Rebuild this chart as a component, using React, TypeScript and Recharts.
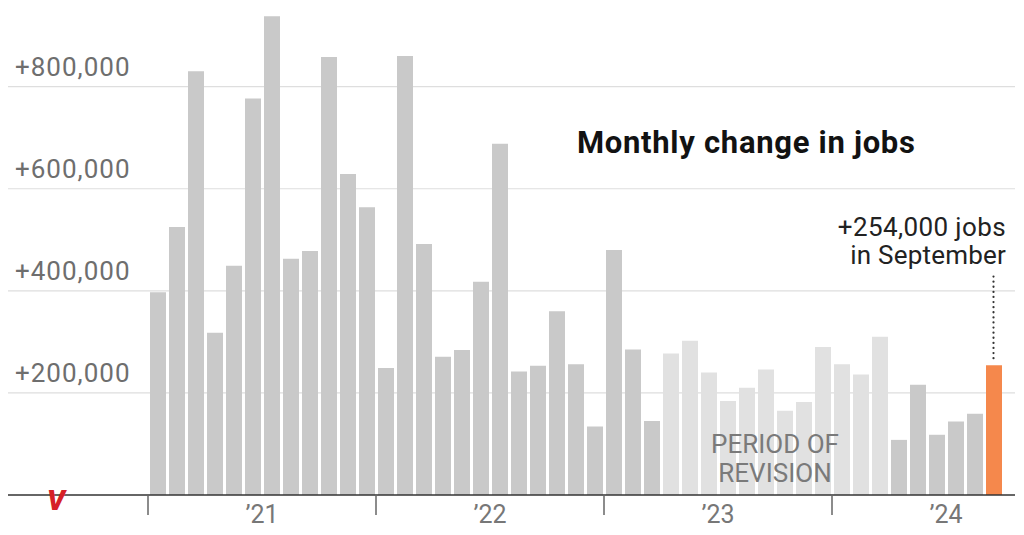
import { BarChart, Bar, Cell, XAxis, YAxis, CartesianGrid, ReferenceLine } from "recharts";

const months = [
  "Jan 2021", "Feb 2021", "Mar 2021", "Apr 2021", "May 2021", "Jun 2021",
  "Jul 2021", "Aug 2021", "Sep 2021", "Oct 2021", "Nov 2021", "Dec 2021",
  "Jan 2022", "Feb 2022", "Mar 2022", "Apr 2022", "May 2022", "Jun 2022",
  "Jul 2022", "Aug 2022", "Sep 2022", "Oct 2022", "Nov 2022", "Dec 2022",
  "Jan 2023", "Feb 2023", "Mar 2023", "Apr 2023", "May 2023", "Jun 2023",
  "Jul 2023", "Aug 2023", "Sep 2023", "Oct 2023", "Nov 2023", "Dec 2023",
  "Jan 2024", "Feb 2024", "Mar 2024", "Apr 2024", "May 2024", "Jun 2024",
  "Jul 2024", "Aug 2024", "Sep 2024",
];

const jobs = [
  397000, 525000, 830000, 318000, 449000, 777000, 938000, 463000, 478000, 858000, 629000, 564000,
  249000, 860000, 492000, 271000, 284000, 418000, 688000, 242000, 253000, 360000, 256000, 134000,
  480000, 285000, 145000, 277000, 302000, 240000, 184000, 210000, 246000, 165000, 182000, 290000,
  256000, 236000, 310000, 108000, 216000, 118000, 144000, 159000, 254000,
];

const revisionStart = "Apr 2023";
const revisionEnd = "Mar 2024";
const latestMonth = "Sep 2024";

const yTicks = [0, 200000, 400000, 600000, 800000];
const gridValues = [200000, 400000, 600000, 800000];

const data = months.map((month, i) => ({ month, jobs: jobs[i] }));

const FONT = "Roboto, 'Noto Sans', sans-serif";

function barColor(month: string) {
  const i = months.indexOf(month);
  if (month === latestMonth) return "#f5884c";
  if (i >= months.indexOf(revisionStart) && i <= months.indexOf(revisionEnd)) return "#e1e1e1";
  return "#c9c9c9";
}

function YearTick(props: any) {
  const { x, y, payload } = props;
  const [mon, yr] = String(payload.value).split(" ");
  const half = payload.offset || 9.5;
  return (
    <g>
      {mon === "Jan" && (
        <line x1={x - half} x2={x - half} y1={y} y2={y + 20} stroke="#666" strokeWidth={1.5} />
      )}
      {mon === "Jun" && (
        <text x={x + half} y={y + 28} textAnchor="middle" fill="#777" fontSize={25} fontFamily={FONT}>
          {"\u2019" + yr.slice(2)}
        </text>
      )}
    </g>
  );
}

function ValueTick(props: any) {
  const { y, payload } = props;
  if (!payload || payload.value === 0) return <g />;
  return (
    <text x={15} y={y - 11} textAnchor="start" fill="#6e6e6e" fontSize={26} letterSpacing={1} fontFamily={FONT}>
      {"+" + Number(payload.value).toLocaleString("en-US")}
    </text>
  );
}

export default function App() {
  return (
    <div style={{ position: "absolute", left: 0, top: 0, width: 1024, height: 535, background: "#fff" }}>
      <BarChart width={1024} height={535} data={data} margin={{ top: 5, right: 9, left: 7, bottom: 0 }}>
        <CartesianGrid vertical={false} horizontalValues={gridValues} stroke="#dedede" strokeWidth={1.2} />
        <XAxis
          dataKey="month"
          interval={0}
          height={40}
          padding={{ left: 140, right: 12 }}
          tickLine={false}
          tickSize={0}
          tickMargin={0}
          axisLine={{ stroke: "#333", strokeWidth: 1.5 }}
          tick={<YearTick />}
        />
        <YAxis
          width={1}
          domain={[0, 960000]}
          ticks={yTicks}
          interval={0}
          axisLine={false}
          tickLine={false}
          tick={<ValueTick />}
        />
        <Bar dataKey="jobs" barSize={16} isAnimationActive={false}>
          {data.map((d) => (
            <Cell key={d.month} fill={barColor(d.month)} />
          ))}
        </Bar>
        <ReferenceLine
          segment={[{ x: latestMonth, y: 268000 }, { x: latestMonth, y: 430000 }]}
          stroke="#333"
          strokeWidth={2.2}
          strokeDasharray="0.1 5"
          strokeLinecap="round"
        />
      </BarChart>
      <svg width={1024} height={535} style={{ position: "absolute", left: 0, top: 0, pointerEvents: "none" }}>
        <text x={577} y={153} fontSize={31} fontWeight={700} letterSpacing={0.7} fill="#121212" fontFamily={FONT}>
          Monthly change in jobs
        </text>
        <text x={1006} y={236} textAnchor="end" fontSize={26} letterSpacing={0.4} fill="#222" fontFamily={FONT}>
          +254,000 jobs
        </text>
        <text x={1006} y={264} textAnchor="end" fontSize={26} letterSpacing={0.2} fill="#222" fontFamily={FONT}>
          in September
        </text>
        <text x={775} y={453} textAnchor="middle" fontSize={26} fill="#7a7a7a" fontFamily={FONT}>
          PERIOD OF
        </text>
        <text x={775} y={482} textAnchor="middle" fontSize={26} fill="#7a7a7a" fontFamily={FONT}>
          REVISION
        </text>
        <text x={47} y={510} fontSize={28} fontWeight={900} fontStyle="italic" fill="#d62027" fontFamily={FONT}>
          V
        </text>
      </svg>
    </div>
  );
}
